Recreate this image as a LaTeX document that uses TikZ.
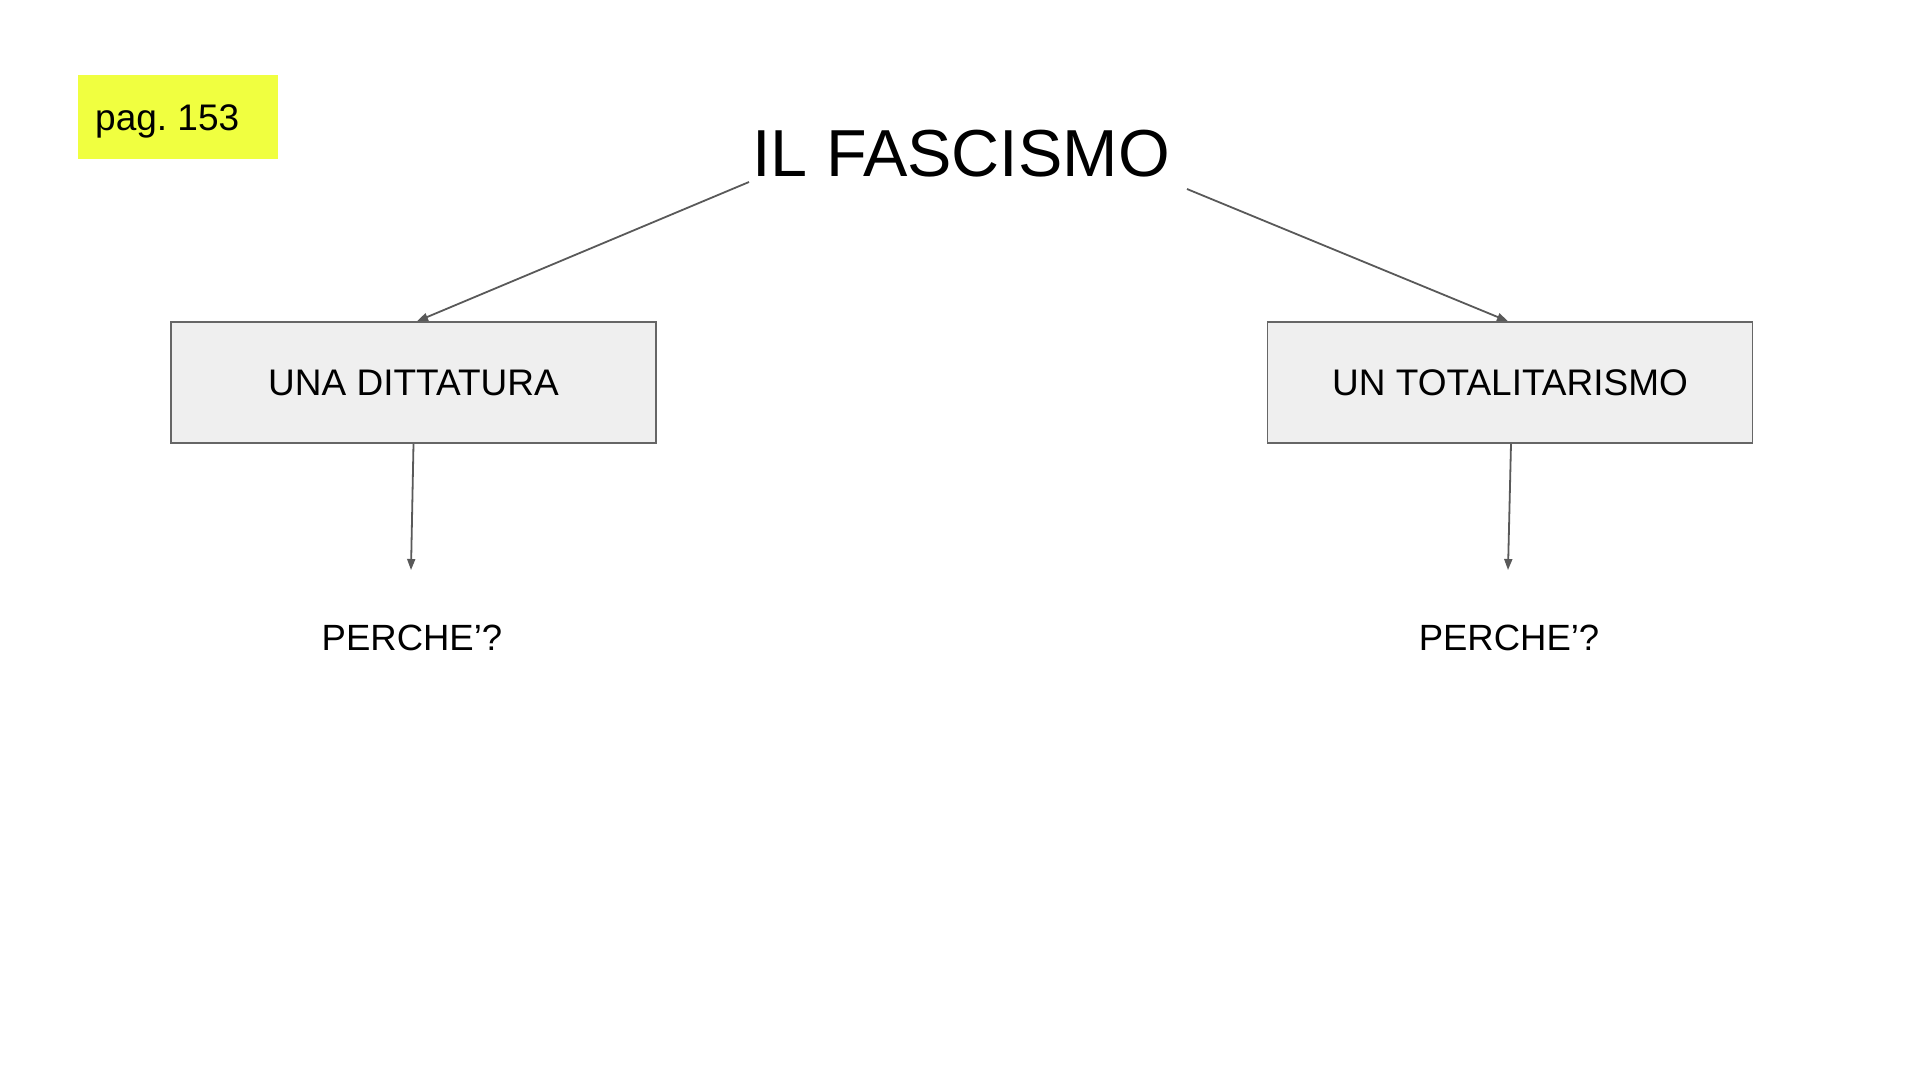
\documentclass[tikz,border=0pt]{standalone}
\usepackage{fontspec}
\setmainfont{Liberation Sans}
\usetikzlibrary{arrows.meta}
\definecolor{hlyellow}{RGB}{240,255,64}
\definecolor{boxfill}{RGB}{239,239,239}
\definecolor{boxline}{RGB}{102,102,102}
\definecolor{arrowcol}{RGB}{89,89,89}
\frenchspacing
\tikzset{
  conceptbox/.style={draw=boxline, line width=1.5pt, fill=boxfill, minimum width=485pt, minimum height=121pt, inner sep=0pt, font=\fontsize{37}{40}\selectfont},
  qlabel/.style={anchor=base, inner sep=0pt, font=\fontsize{36.5}{40}\selectfont},
  conn/.style={draw=arrowcol, line width=1.8pt, -{Triangle[length=11pt,width=8pt]}}
}
\begin{document}
\begin{tikzpicture}[x=1pt,y=-1pt]
\useasboundingbox (0,0) rectangle (1920,1080);
% page tag
\fill[hlyellow] (78,75) rectangle (278,159);
\node[anchor=base west, inner sep=0pt, font=\fontsize{37}{40}\selectfont] (tag) at (95,130) {pag. 153};
% title
\node[anchor=base, inner sep=0pt, font=\fontsize{66.5}{70}\selectfont] (title) at (961,176) {IL FASCISMO};
\coordinate (tl) at (749,182);
\coordinate (tr) at (1187,189);
% boxes
\node[conceptbox] (dit) at (413.5,382.5) {UNA DITTATURA};
\node[conceptbox] (tot) at (1510,382.5) {UN TOTALITARISMO};
% questions
\node[qlabel] (q1) at (412,650) {PERCHE’?};
\node[qlabel] (q2) at (1509,650) {PERCHE’?};
\coordinate (q1t) at (411,570);
\coordinate (q2t) at (1508,570);
% connectors
\draw[conn] (tl) -- ([xshift=3.5pt]dit.north);
\draw[conn] (tr) -- ([xshift=-2pt]tot.north);
\draw[conn] (dit.south) -- (q1t);
\draw[conn] ([xshift=1pt]tot.south) -- (q2t);
\end{tikzpicture}
\end{document}
